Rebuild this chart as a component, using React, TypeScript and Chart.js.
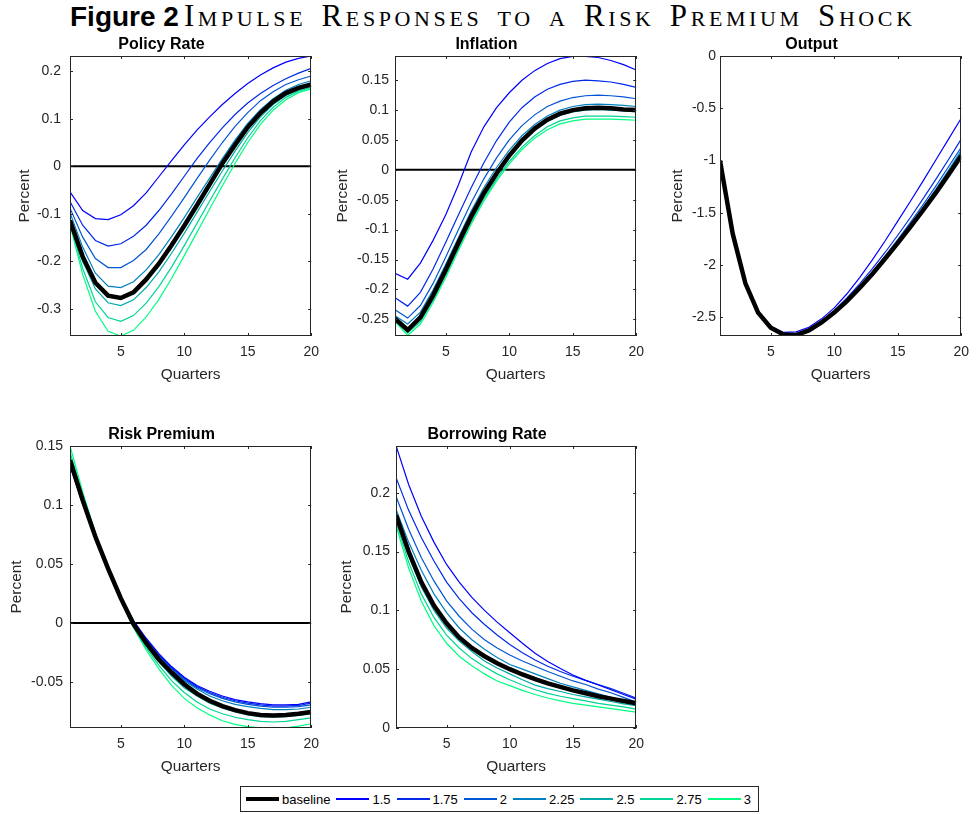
import React, { useEffect, useRef } from "react";
import { Chart, registerables } from "chart.js";

Chart.register(...registerables);

const FONT = "'Liberation Sans', Arial, Helvetica, sans-serif";
const SERIF = "'Liberation Serif', 'Times New Roman', serif";

// ---------- data ----------
const quarters = [1, 2, 3, 4, 5, 6, 7, 8, 9, 10, 11, 12, 13, 14, 15, 16, 17, 18, 19, 20];
const seriesNames = ["baseline", "1.5", "1.75", "2", "2.25", "2.5", "2.75", "3"];
const seriesColors = ["#000000", "#0000ff", "#002aea", "#0055d5", "#0080bf", "#00aaaa", "#00d595", "#00ff80"];

const xTicks = [5, 10, 15, 20];
const xTickLabels = ["5", "10", "15", "20"];

// Policy Rate
const policyBaseline = [-0.114, -0.19, -0.245, -0.272, -0.277, -0.265, -0.238, -0.205, -0.166, -0.125, -0.082, -0.038, 0.006, 0.045, 0.082, 0.112, 0.136, 0.154, 0.165, 0.172];
const policy150 = [-0.054, -0.093, -0.11, -0.112, -0.102, -0.083, -0.056, -0.022, 0.012, 0.045, 0.076, 0.104, 0.13, 0.153, 0.174, 0.192, 0.207, 0.219, 0.227, 0.232];
const policy175 = [-0.074, -0.124, -0.156, -0.168, -0.163, -0.147, -0.124, -0.093, -0.058, -0.021, 0.016, 0.05, 0.081, 0.109, 0.133, 0.153, 0.17, 0.184, 0.196, 0.206];
const policy200 = [-0.088, -0.149, -0.194, -0.213, -0.213, -0.198, -0.175, -0.142, -0.105, -0.066, -0.026, 0.013, 0.05, 0.084, 0.113, 0.138, 0.157, 0.172, 0.182, 0.19];
const policy225 = [-0.098, -0.17, -0.225, -0.252, -0.255, -0.243, -0.218, -0.186, -0.148, -0.108, -0.066, -0.025, 0.016, 0.055, 0.09, 0.119, 0.142, 0.16, 0.172, 0.18];
const policy250 = [-0.118, -0.2, -0.258, -0.287, -0.293, -0.281, -0.255, -0.222, -0.183, -0.141, -0.097, -0.053, -0.01, 0.032, 0.071, 0.104, 0.13, 0.149, 0.161, 0.169];
const policy275 = [-0.12, -0.215, -0.285, -0.318, -0.326, -0.314, -0.288, -0.253, -0.212, -0.167, -0.12, -0.073, -0.027, 0.018, 0.06, 0.096, 0.124, 0.145, 0.158, 0.166];
const policy300 = [-0.123, -0.228, -0.305, -0.347, -0.357, -0.345, -0.317, -0.28, -0.236, -0.188, -0.139, -0.09, -0.041, 0.006, 0.05, 0.088, 0.118, 0.14, 0.155, 0.163];
const policyTicks = [-0.3, -0.2, -0.1, 0, 0.1, 0.2];
const policyTickLabels = ["-0.3", "-0.2", "-0.1", "0", "0.1", "0.2"];

// Inflation
const inflBaseline = [-0.249, -0.268, -0.247, -0.21, -0.167, -0.122, -0.078, -0.039, -0.006, 0.024, 0.049, 0.069, 0.084, 0.094, 0.1, 0.103, 0.104, 0.103, 0.101, 0.1];
const infl150 = [-0.173, -0.183, -0.156, -0.118, -0.075, -0.025, 0.03, 0.072, 0.104, 0.129, 0.15, 0.166, 0.178, 0.186, 0.19, 0.19, 0.188, 0.183, 0.176, 0.167];
const infl175 = [-0.214, -0.228, -0.205, -0.166, -0.121, -0.075, -0.03, 0.012, 0.049, 0.08, 0.104, 0.122, 0.135, 0.143, 0.148, 0.15, 0.149, 0.147, 0.143, 0.138];
const infl200 = [-0.234, -0.248, -0.227, -0.19, -0.146, -0.1, -0.055, -0.015, 0.02, 0.05, 0.074, 0.092, 0.106, 0.115, 0.121, 0.124, 0.125, 0.124, 0.122, 0.119];
const infl225 = [-0.244, -0.258, -0.238, -0.201, -0.158, -0.113, -0.069, -0.03, 0.004, 0.033, 0.057, 0.076, 0.09, 0.1, 0.106, 0.109, 0.11, 0.109, 0.108, 0.106];
const infl250 = [-0.25, -0.27, -0.25, -0.213, -0.17, -0.125, -0.081, -0.042, -0.009, 0.021, 0.046, 0.066, 0.081, 0.091, 0.097, 0.1, 0.101, 0.1, 0.099, 0.097];
const infl275 = [-0.252, -0.273, -0.254, -0.218, -0.176, -0.131, -0.087, -0.048, -0.015, 0.014, 0.038, 0.057, 0.072, 0.082, 0.087, 0.09, 0.09, 0.09, 0.089, 0.088];
const infl300 = [-0.254, -0.277, -0.258, -0.222, -0.18, -0.135, -0.091, -0.052, -0.019, 0.01, 0.034, 0.053, 0.067, 0.077, 0.082, 0.085, 0.085, 0.085, 0.084, 0.083];
const inflTicks = [-0.25, -0.2, -0.15, -0.1, -0.05, 0, 0.05, 0.1, 0.15];
const inflTickLabels = ["-0.25", "-0.2", "-0.15", "-0.1", "-0.05", "0", "0.05", "0.1", "0.15"];

// Output
const outBaseline = [-1.0, -1.7, -2.175, -2.455, -2.6, -2.665, -2.67, -2.625, -2.55, -2.455, -2.345, -2.22, -2.085, -1.94, -1.79, -1.635, -1.475, -1.31, -1.135, -0.955];
const out150 = [-1.0, -1.69, -2.16, -2.44, -2.585, -2.645, -2.64, -2.595, -2.515, -2.41, -2.275, -2.12, -1.95, -1.77, -1.58, -1.39, -1.195, -0.995, -0.795, -0.595];
const out175 = [-1.0, -1.695, -2.168, -2.448, -2.593, -2.655, -2.655, -2.61, -2.535, -2.435, -2.315, -2.18, -2.035, -1.88, -1.715, -1.545, -1.365, -1.18, -0.99, -0.795];
const out200 = [-1.0, -1.698, -2.172, -2.452, -2.597, -2.66, -2.662, -2.618, -2.543, -2.447, -2.335, -2.205, -2.065, -1.915, -1.757, -1.592, -1.422, -1.245, -1.06, -0.875];
const out225 = [-1.0, -1.7, -2.174, -2.454, -2.599, -2.663, -2.666, -2.622, -2.547, -2.451, -2.34, -2.213, -2.076, -1.93, -1.775, -1.614, -1.448, -1.275, -1.093, -0.903];
const out250 = [-1.0, -1.7, -2.175, -2.455, -2.6, -2.665, -2.669, -2.625, -2.55, -2.454, -2.343, -2.217, -2.081, -1.935, -1.782, -1.624, -1.46, -1.29, -1.112, -0.925];
const out275 = [-1.0, -1.7, -2.175, -2.455, -2.6, -2.666, -2.67, -2.626, -2.552, -2.457, -2.347, -2.222, -2.087, -1.942, -1.79, -1.633, -1.471, -1.302, -1.125, -0.94];
const out300 = [-1.0, -1.7, -2.176, -2.456, -2.601, -2.667, -2.671, -2.628, -2.554, -2.459, -2.35, -2.226, -2.092, -1.948, -1.797, -1.641, -1.48, -1.312, -1.137, -0.952];
const outTicks = [-2.5, -2, -1.5, -1, -0.5, 0];
const outTickLabels = ["-2.5", "-2", "-1.5", "-1", "-0.5", "0"];

// Risk Premium
const rpBaseline = [0.138, 0.104, 0.073, 0.046, 0.021, -0.001, -0.017, -0.031, -0.042, -0.052, -0.06, -0.066, -0.0705, -0.074, -0.0765, -0.078, -0.0785, -0.078, -0.077, -0.0755];
const rp150 = [0.133, 0.101, 0.071, 0.045, 0.022, 0.002, -0.013, -0.026, -0.037, -0.046, -0.053, -0.058, -0.062, -0.065, -0.067, -0.0685, -0.0695, -0.0695, -0.069, -0.067];
const rp175 = [0.134, 0.102, 0.072, 0.045, 0.022, 0.001, -0.014, -0.027, -0.038, -0.047, -0.054, -0.059, -0.063, -0.066, -0.068, -0.0695, -0.0705, -0.0705, -0.07, -0.068];
const rp200 = [0.135, 0.102, 0.072, 0.046, 0.022, 0.001, -0.015, -0.028, -0.039, -0.048, -0.055, -0.06, -0.064, -0.067, -0.069, -0.0705, -0.0715, -0.0715, -0.071, -0.0695];
const rp225 = [0.136, 0.103, 0.073, 0.046, 0.022, 0.0, -0.016, -0.029, -0.04, -0.049, -0.056, -0.062, -0.066, -0.069, -0.071, -0.0725, -0.0735, -0.0735, -0.073, -0.0715];
const rp250 = [0.141, 0.106, 0.074, 0.046, 0.021, -0.002, -0.019, -0.033, -0.045, -0.055, -0.062, -0.068, -0.072, -0.0755, -0.078, -0.0795, -0.08, -0.0795, -0.0785, -0.077];
const rp275 = [0.145, 0.108, 0.075, 0.046, 0.02, -0.003, -0.021, -0.036, -0.049, -0.059, -0.067, -0.073, -0.077, -0.08, -0.082, -0.0835, -0.084, -0.0835, -0.082, -0.0805];
const rp300 = [0.15, 0.111, 0.076, 0.046, 0.019, -0.004, -0.023, -0.039, -0.053, -0.064, -0.072, -0.078, -0.083, -0.086, -0.088, -0.089, -0.0893, -0.089, -0.0875, -0.0855];
const rpTicks = [-0.05, 0, 0.05, 0.1, 0.15];
const rpTickLabels = ["-0.05", "0", "0.05", "0.1", "0.15"];

// Borrowing Rate
const brBaseline = [0.181, 0.15, 0.124, 0.104, 0.089, 0.077, 0.068, 0.061, 0.055, 0.05, 0.0455, 0.0415, 0.038, 0.035, 0.032, 0.0295, 0.027, 0.025, 0.023, 0.021];
const br150 = [0.24, 0.207, 0.18, 0.158, 0.139, 0.124, 0.111, 0.1, 0.09, 0.081, 0.072, 0.0635, 0.0565, 0.0505, 0.045, 0.0405, 0.0365, 0.0325, 0.0285, 0.0245];
const br175 = [0.213, 0.185, 0.162, 0.142, 0.124, 0.11, 0.098, 0.088, 0.079, 0.071, 0.064, 0.0578, 0.0525, 0.048, 0.044, 0.0405, 0.037, 0.0335, 0.0295, 0.0255];
const br200 = [0.197, 0.169, 0.145, 0.125, 0.108, 0.095, 0.084, 0.075, 0.068, 0.062, 0.057, 0.0525, 0.048, 0.044, 0.04, 0.037, 0.033, 0.03, 0.026, 0.022];
const br225 = [0.186, 0.158, 0.134, 0.114, 0.098, 0.085, 0.075, 0.067, 0.06, 0.054, 0.05, 0.046, 0.042, 0.038, 0.035, 0.032, 0.029, 0.026, 0.023, 0.0195];
const br250 = [0.178, 0.146, 0.12, 0.1, 0.085, 0.074, 0.065, 0.057, 0.051, 0.046, 0.041, 0.0365, 0.0335, 0.031, 0.0285, 0.0265, 0.0245, 0.0225, 0.0205, 0.019];
const br275 = [0.175, 0.141, 0.114, 0.094, 0.079, 0.068, 0.059, 0.052, 0.046, 0.041, 0.0365, 0.0325, 0.0295, 0.027, 0.025, 0.023, 0.021, 0.0195, 0.018, 0.016];
const br300 = [0.172, 0.136, 0.108, 0.087, 0.072, 0.061, 0.053, 0.046, 0.04, 0.036, 0.032, 0.0285, 0.0255, 0.023, 0.021, 0.0195, 0.018, 0.0165, 0.015, 0.0135];
const brTicks = [0, 0.05, 0.1, 0.15, 0.2];
const brTickLabels = ["0", "0.05", "0.1", "0.15", "0.2"];

// ---------- layout ----------
type PanelCfg = {
  title: string;
  series: number[][];
  yMin: number;
  yMax: number;
  yTicks: number[];
  yTickLabels: string[];
  zero: boolean;
  left: number;
  top: number;
  width: number;
  height: number;
  ylabelOffset: number;
  tickPad: number;
};

const panels: PanelCfg[] = [
  {
    title: "Policy Rate",
    series: [policyBaseline, policy150, policy175, policy200, policy225, policy250, policy275, policy300],
    yMin: -0.357, yMax: 0.232, yTicks: policyTicks, yTickLabels: policyTickLabels, zero: true,
    left: 70, top: 56, width: 247, height: 280, ylabelOffset: 45, tickPad: 9,
  },
  {
    title: "Inflation",
    series: [inflBaseline, infl150, infl175, infl200, infl225, infl250, infl275, infl300],
    yMin: -0.278, yMax: 0.1905, yTicks: inflTicks, yTickLabels: inflTickLabels, zero: true,
    left: 395, top: 56, width: 247, height: 280, ylabelOffset: 52, tickPad: 6,
  },
  {
    title: "Output",
    series: [outBaseline, out150, out175, out200, out225, out250, out275, out300],
    yMin: -2.679, yMax: 0, yTicks: outTicks, yTickLabels: outTickLabels, zero: false,
    left: 720, top: 56, width: 247, height: 280, ylabelOffset: 42, tickPad: 4,
  },
  {
    title: "Risk Premium",
    series: [rpBaseline, rp150, rp175, rp200, rp225, rp250, rp275, rp300],
    yMin: -0.0891, yMax: 0.15, yTicks: rpTicks, yTickLabels: rpTickLabels, zero: true,
    left: 70, top: 446, width: 247, height: 282, ylabelOffset: 53, tickPad: 7,
  },
  {
    title: "Borrowing Rate",
    series: [brBaseline, br150, br175, br200, br225, br250, br275, br300],
    yMin: 0, yMax: 0.2397, yTicks: brTicks, yTickLabels: brTickLabels, zero: false,
    left: 396, top: 446, width: 246, height: 282, ylabelOffset: 49, tickPad: 6,
  },
];

const LW = 64;
const TH = 27;
const BH = 55;
const RW = 10;

const boxPlugin = {
  id: "matlabBox",
  afterDraw(chart: any) {
    const { ctx, chartArea: a, scales } = chart;
    ctx.save();
    ctx.strokeStyle = "#262626";
    ctx.lineWidth = 1;
    const tl = 3;
    ctx.beginPath();
    for (const t of scales.x.ticks) {
      const px = Math.round(scales.x.getPixelForValue(t.value)) + 0.5;
      ctx.moveTo(px, a.bottom);
      ctx.lineTo(px, a.bottom - tl);
      ctx.moveTo(px, a.top);
      ctx.lineTo(px, a.top + tl);
    }
    for (const t of scales.y.ticks) {
      const py = Math.round(scales.y.getPixelForValue(t.value)) + 0.5;
      ctx.moveTo(a.left, py);
      ctx.lineTo(a.left + tl, py);
      ctx.moveTo(a.right, py);
      ctx.lineTo(a.right - tl, py);
    }
    ctx.stroke();
    ctx.strokeRect(Math.round(a.left) + 0.5, Math.round(a.top) + 0.5, Math.round(a.right - a.left) - 1, Math.round(a.bottom - a.top) - 1);
    ctx.restore();
  },
};

function Panel({ p }: { p: PanelCfg }) {
  const ref = useRef<HTMLCanvasElement>(null);
  const cw = LW + p.width + RW;
  const ch = TH + p.height + BH;
  useEffect(() => {
    if (!ref.current) return;
    const datasets: any[] = p.series.map((vals, i) => ({
      label: seriesNames[i],
      data: quarters.map((q, k) => ({ x: q, y: vals[k] })),
      borderColor: seriesColors[i],
      backgroundColor: seriesColors[i],
      borderWidth: i === 0 ? 4.5 : 1.2,
      pointRadius: 0,
      tension: 0,
      fill: false,
    }));
    if (p.zero) {
      datasets.push({
        label: "zero",
        data: quarters.map((q) => ({ x: q, y: 0 })),
        borderColor: "#000000",
        borderWidth: 2,
        pointRadius: 0,
        tension: 0,
        fill: false,
      });
    }
    const chart = new Chart(ref.current, {
      type: "line",
      data: { datasets },
      options: {
        animation: false,
        responsive: false,
        maintainAspectRatio: false,
        events: [],
        layout: { padding: { left: 0, top: 0, right: RW, bottom: 0 } },
        plugins: {
          legend: { display: false },
          tooltip: { enabled: false },
          title: {
            display: true,
            text: p.title,
            color: "#000000",
            font: { family: FONT, size: 16, weight: "bold" },
            padding: { top: 5.9, bottom: 1.9 },
          },
        },
        scales: {
          x: {
            type: "linear",
            min: 1,
            max: 20,
            afterBuildTicks: (s: any) => {
              s.ticks = xTicks.map((v) => ({ value: v }));
            },
            afterFit: (s: any) => {
              s.height = BH;
            },
            ticks: {
              callback: (_v: any, i: number) => xTickLabels[i],
              padding: 8,
              color: "#262626",
              font: { family: FONT, size: 14 },
              maxRotation: 0,
              autoSkip: false,
            },
            grid: { display: false, drawTicks: false },
            border: { display: false },
            title: {
              display: true,
              text: "Quarters",
              color: "#262626",
              font: { family: FONT, size: 15.4 },
              padding: { top: 0, bottom: 6.76 },
            },
          },
          y: {
            type: "linear",
            min: p.yMin,
            max: p.yMax,
            afterBuildTicks: (s: any) => {
              s.ticks = p.yTicks.map((v) => ({ value: v }));
            },
            afterFit: (s: any) => {
              s.width = LW;
            },
            ticks: {
              callback: (_v: any, i: number) => p.yTickLabels[i],
              padding: p.tickPad,
              color: "#262626",
              font: { family: FONT, size: 14 },
              autoSkip: false,
            },
            grid: { display: false, drawTicks: false },
            border: { display: false },
            title: {
              display: true,
              text: "Percent",
              color: "#262626",
              font: { family: FONT, size: 15.4 },
              padding: { top: LW - p.ylabelOffset - 9.24, bottom: 0 },
            },
          },
        },
      },
      plugins: [boxPlugin],
    } as any);
    return () => chart.destroy();
  }, []);
  return (
    <canvas
      ref={ref}
      width={cw}
      height={ch}
      style={{ position: "absolute", left: p.left - LW, top: p.top - TH, width: cw, height: ch }}
    />
  );
}

function Legend() {
  return (
    <div
      style={{
        position: "absolute",
        left: 240,
        top: 786,
        width: 512,
        height: 24,
        paddingLeft: 5,
        border: "1px solid #262626",
        display: "flex",
        alignItems: "center",
        fontFamily: FONT,
        fontSize: 13,
        color: "#000",
        background: "#fff",
      }}
    >
      {seriesNames.map((n, i) => (
        <div key={n} style={{ display: "flex", alignItems: "center", marginRight: 6 }}>
          <div style={{ width: 33, height: i === 0 ? 4 : 1.3, background: seriesColors[i] }} />
          <span style={{ marginLeft: 3, lineHeight: "15px" }}>{n}</span>
        </div>
      ))}
    </div>
  );
}

export default function App() {
  return (
    <div
      style={{
        position: "absolute",
        left: 0,
        top: 0,
        width: 977,
        height: 814,
        overflow: "hidden",
        background: "#fff",
      }}
    >
      <div style={{ position: "absolute", left: 70, top: 0, lineHeight: "32px", whiteSpace: "nowrap", color: "#000" }}>
        <span style={{ fontFamily: FONT, fontWeight: "bold", fontSize: 28 }}>Figure 2</span>
        <span
          style={{
            fontFamily: SERIF,
            fontVariant: "small-caps",
            fontSize: 31,
            letterSpacing: "3.6px",
            wordSpacing: "4px",
            marginLeft: 5,
          }}
        >
          Impulse Responses to a Risk Premium Shock
        </span>
      </div>
      {panels.map((p) => (
        <Panel key={p.title} p={p} />
      ))}
      <Legend />
    </div>
  );
}
